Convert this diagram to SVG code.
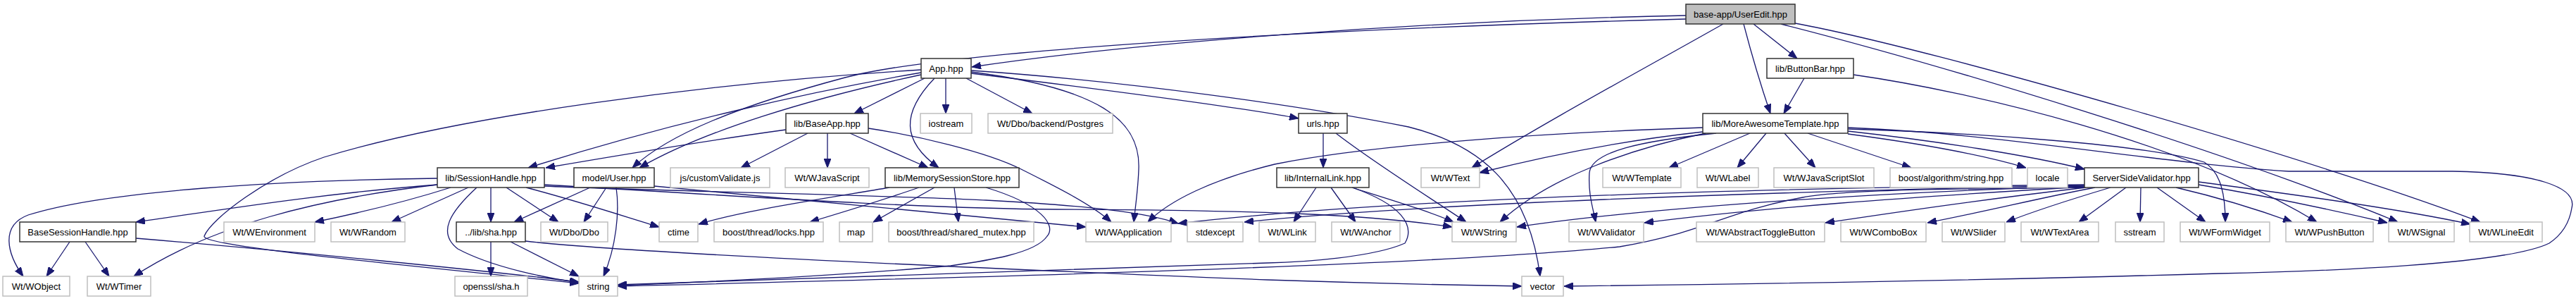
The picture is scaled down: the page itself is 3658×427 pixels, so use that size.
<svg xmlns="http://www.w3.org/2000/svg" width="3658" height="427" viewBox="0 0 3658 427">
<style>
.doc{fill:#fff;stroke:#333;stroke-width:1.5}
.ext{fill:#fff;stroke:#bfbfbf;stroke-width:1.5}
.root{fill:#bfbfbf;stroke:#333;stroke-width:1.5}
text{font-family:"Liberation Sans",Arial,sans-serif;font-size:13px;text-anchor:middle;fill:#000}
#edges path{fill:none;stroke:#191970;stroke-width:1.3;marker-end:url(#arr)}
</style>
<defs>
<marker id="arr" viewBox="0 0 13 10" refX="13" refY="5" markerWidth="13" markerHeight="10" markerUnits="userSpaceOnUse" orient="auto">
<path d="M0,0 L13,5 L0,10 z" fill="#191970" stroke="#191970" stroke-width="1"/>
</marker>
</defs>
<rect width="3658" height="427" fill="#fff"/>
<g id="edges">
<path d="M2394,22 C2000,30 1600,62 1380,95"/>
<path d="M2394,27 C1900,40 1350,70 1200,110 C1050,150 950,190 898,238"/>
<path d="M2447,34 C2330,100 2200,170 2090,238"/>
<path d="M2476,34 C2488,80 2500,120 2514,161"/>
<path d="M2490,34 L2552,83"/>
<path d="M2549,33 C2750,70 3300,230 3522,315"/>
<path d="M2529,34 C2750,90 3150,210 3405,315"/>
<path d="M2562,111 L2533,161"/>
<path d="M2632,106 C2800,130 3100,200 3290,315"/>
<path d="M1313,111 L1213,161"/>
<path d="M1343,111 L1343,161"/>
<path d="M1327,111 C1280,160 1280,200 1333,238"/>
<path d="M1372,111 L1466,161"/>
<path d="M1379,102 C1560,125 1620,170 1617,240 C1616,270 1612,295 1610,315"/>
<path d="M1379,104 C1550,125 1750,150 1844,168"/>
<path d="M1379,100 C1600,115 1850,150 2000,180 C2100,205 2170,260 2187,392"/>
<path d="M1308,103 C1150,130 950,175 750,238"/>
<path d="M1308,106 C1150,140 1000,185 908,238"/>
<path d="M1308,99 C1000,118 650,165 460,223 C380,250 300,310 290,335 C285,350 600,378 822,402"/>
<path d="M1147,189 L1052,238"/>
<path d="M1175,189 L1175,238"/>
<path d="M1207,189 L1318,238"/>
<path d="M1233,182 C1300,192 1400,215 1450,240 C1500,265 1550,290 1578,315"/>
<path d="M1116,184 C1000,200 880,220 775,238"/>
<path d="M1263,266 C1150,285 1050,300 992,318"/>
<path d="M1305,266 C1250,285 1200,300 1150,315"/>
<path d="M1327,266 L1240,315"/>
<path d="M1355,266 L1361,315"/>
<path d="M1400,266 C1480,290 1500,320 1487,335 C1470,360 1400,370 1350,377 C1150,395 950,402 877,405"/>
<path d="M621,262 C450,275 300,300 193,315"/>
<path d="M621,253 C400,256 150,270 40,305 C0,320 10,360 33,392"/>
<path d="M621,262 C450,282 300,320 190,392"/>
<path d="M640,266 C580,285 520,300 447,315"/>
<path d="M665,266 L556,315"/>
<path d="M697,266 L697,315"/>
<path d="M719,266 L793,315"/>
<path d="M677,266 C640,300 620,330 650,353 C700,380 780,395 822,401"/>
<path d="M747,266 C820,285 880,305 936,322"/>
<path d="M773,264 C900,270 1300,278 1400,284 C1550,292 1630,302 1673,317"/>
<path d="M773,262 C1000,275 1300,296 1500,297 C1800,298 1950,305 2062,322"/>
<path d="M838,266 L730,315"/>
<path d="M861,266 L829,315"/>
<path d="M875,266 C880,300 875,350 857,392"/>
<path d="M929,264 C1150,285 1350,305 1542,322"/>
<path d="M697,343 L697,392"/>
<path d="M725,343 L822,392"/>
<path d="M746,342 C900,360 1500,385 1800,397 C1950,402 2100,405 2161,406"/>
<path d="M99,343 L66,392"/>
<path d="M121,343 L155,392"/>
<path d="M193,338 C400,355 700,385 822,400"/>
<path d="M1879,189 L1879,238"/>
<path d="M1897,189 C1950,230 2030,280 2082,315"/>
<path d="M1869,266 L1837,315"/>
<path d="M1890,266 L1925,315"/>
<path d="M1920,266 C1980,285 2030,300 2064,315"/>
<path d="M1920,266 C1990,290 2010,320 1995,345 C1950,365 1850,372 1800,373 C1400,385 1000,400 877,404"/>
<path d="M2485,189 L2370,238"/>
<path d="M2508,189 L2467,238"/>
<path d="M2534,189 L2578,238"/>
<path d="M2567,189 L2714,238"/>
<path d="M2624,190 C2700,200 2800,215 2877,238"/>
<path d="M2624,186 C2750,200 2880,220 2960,240"/>
<path d="M2624,183 C2800,188 3050,205 3130,230 C3155,245 3160,280 3160,315"/>
<path d="M2624,181 C2850,190 3050,230 3250,243 L3483,243 C3600,245 3660,265 3652,295 C3648,320 3635,335 3620,345 C3560,375 3300,385 3150,388 C2800,398 2400,404 2221,406"/>
<path d="M2437,189 C2330,200 2260,215 2257,245 C2255,275 2262,295 2266,315"/>
<path d="M2418,187 C2300,200 2200,220 2101,245"/>
<path d="M2422,189 C2320,210 2200,250 2130,315"/>
<path d="M2418,181 C2200,188 1950,205 1810,233 C1720,255 1660,285 1630,315"/>
<path d="M3122,258 C3250,275 3400,295 3508,318"/>
<path d="M3122,262 C3200,275 3300,295 3390,316"/>
<path d="M3090,266 C3150,280 3200,295 3255,315"/>
<path d="M3063,266 L3132,315"/>
<path d="M3040,266 L3039,315"/>
<path d="M3019,266 L2952,315"/>
<path d="M2997,266 C2950,280 2900,295 2849,315"/>
<path d="M2975,266 C2900,280 2820,300 2737,316"/>
<path d="M2962,266 C2800,285 2700,300 2592,316"/>
<path d="M2960,265 C2700,280 2500,295 2335,316"/>
<path d="M2960,264 C2600,275 2300,300 2154,322"/>
<path d="M2960,263 C2500,272 2000,290 1767,315"/>
<path d="M2960,262 C2400,268 1950,285 1673,317"/>
<path d="M2960,266 C2800,268 2620,268 2560,280 C2450,300 2420,330 2300,350 C2000,380 1200,398 877,406"/>
</g>
<g id="n_useredit"><rect class="root" x="2394" y="6" width="155" height="28"/><text x="2471.5" y="25">base-app/UserEdit.hpp</text></g>
<g id="n_app"><rect class="doc" x="1308" y="83" width="71" height="28"/><text x="1343.5" y="102">App.hpp</text></g>
<g id="n_buttonbar"><rect class="doc" x="2509" y="83" width="123" height="28"/><text x="2570.5" y="102">lib/ButtonBar.hpp</text></g>
<g id="n_baseapp"><rect class="doc" x="1116" y="161" width="117" height="28"/><text x="1174.5" y="180">lib/BaseApp.hpp</text></g>
<g id="n_iostream"><rect class="ext" x="1307" y="161" width="73" height="28"/><text x="1343.5" y="180">iostream</text></g>
<g id="n_postgres"><rect class="ext" x="1403" y="161" width="177" height="28"/><text x="1491.5" y="180">Wt/Dbo/backend/Postgres</text></g>
<g id="n_urls"><rect class="doc" x="1844" y="161" width="69" height="28"/><text x="1878.5" y="180">urls.hpp</text></g>
<g id="n_mat"><rect class="doc" x="2418" y="161" width="206" height="28"/><text x="2521" y="180">lib/MoreAwesomeTemplate.hpp</text></g>
<g id="n_sessionhandle"><rect class="doc" x="621" y="238" width="152" height="28"/><text x="697" y="257">lib/SessionHandle.hpp</text></g>
<g id="n_user"><rect class="doc" x="815" y="238" width="114" height="28"/><text x="872" y="257">model/User.hpp</text></g>
<g id="n_customvalidate"><rect class="ext" x="952" y="238" width="141" height="28"/><text x="1022.5" y="257">js/customValidate.js</text></g>
<g id="n_wjavascript"><rect class="ext" x="1115" y="238" width="119" height="28"/><text x="1174.5" y="257">Wt/WJavaScript</text></g>
<g id="n_mss"><rect class="doc" x="1257" y="238" width="190" height="28"/><text x="1352" y="257">lib/MemorySessionStore.hpp</text></g>
<g id="n_internallink"><rect class="doc" x="1813" y="238" width="131" height="28"/><text x="1878.5" y="257">lib/InternalLink.hpp</text></g>
<g id="n_wtext"><rect class="ext" x="2018" y="238" width="83" height="28"/><text x="2059.5" y="257">Wt/WText</text></g>
<g id="n_wtemplate"><rect class="ext" x="2276" y="238" width="111" height="28"/><text x="2331.5" y="257">Wt/WTemplate</text></g>
<g id="n_wlabel"><rect class="ext" x="2410" y="238" width="87" height="28"/><text x="2453.5" y="257">Wt/WLabel</text></g>
<g id="n_wjsslot"><rect class="ext" x="2519" y="238" width="142" height="28"/><text x="2590" y="257">Wt/WJavaScriptSlot</text></g>
<g id="n_boostalgo"><rect class="ext" x="2684" y="238" width="173" height="28"/><text x="2770.5" y="257">boost/algorithm/string.hpp</text></g>
<g id="n_locale"><rect class="ext" x="2879" y="238" width="57" height="28"/><text x="2907.5" y="257">locale</text></g>
<g id="n_ssv"><rect class="doc" x="2960" y="238" width="162" height="28"/><text x="3041" y="257">ServerSideValidator.hpp</text></g>
<g id="n_bsh"><rect class="doc" x="28" y="315" width="165" height="28"/><text x="110.5" y="334">BaseSessionHandle.hpp</text></g>
<g id="n_wenv"><rect class="ext" x="318" y="315" width="129" height="28"/><text x="382.5" y="334">Wt/WEnvironment</text></g>
<g id="n_wrandom"><rect class="ext" x="470" y="315" width="105" height="28"/><text x="522.5" y="334">Wt/WRandom</text></g>
<g id="n_sha"><rect class="doc" x="648" y="315" width="98" height="28"/><text x="697" y="334">../lib/sha.hpp</text></g>
<g id="n_dbo"><rect class="ext" x="768" y="315" width="95" height="28"/><text x="815.5" y="334">Wt/Dbo/Dbo</text></g>
<g id="n_ctime"><rect class="ext" x="936" y="315" width="55" height="28"/><text x="963.5" y="334">ctime</text></g>
<g id="n_locks"><rect class="ext" x="1014" y="315" width="155" height="28"/><text x="1091.5" y="334">boost/thread/locks.hpp</text></g>
<g id="n_map"><rect class="ext" x="1192" y="315" width="47" height="28"/><text x="1215.5" y="334">map</text></g>
<g id="n_sharedmutex"><rect class="ext" x="1262" y="315" width="206" height="28"/><text x="1365" y="334">boost/thread/shared_mutex.hpp</text></g>
<g id="n_wapplication"><rect class="ext" x="1542" y="315" width="121" height="28"/><text x="1602.5" y="334">Wt/WApplication</text></g>
<g id="n_stdexcept"><rect class="ext" x="1686" y="315" width="79" height="28"/><text x="1725.5" y="334">stdexcept</text></g>
<g id="n_wlink"><rect class="ext" x="1788" y="315" width="80" height="28"/><text x="1828" y="334">Wt/WLink</text></g>
<g id="n_wanchor"><rect class="ext" x="1891" y="315" width="97" height="28"/><text x="1939.5" y="334">Wt/WAnchor</text></g>
<g id="n_wstring"><rect class="ext" x="2062" y="315" width="91" height="28"/><text x="2107.5" y="334">Wt/WString</text></g>
<g id="n_wvalidator"><rect class="ext" x="2228" y="315" width="106" height="28"/><text x="2281" y="334">Wt/WValidator</text></g>
<g id="n_wtoggle"><rect class="ext" x="2409" y="315" width="182" height="28"/><text x="2500" y="334">Wt/WAbstractToggleButton</text></g>
<g id="n_wcombo"><rect class="ext" x="2614" y="315" width="121" height="28"/><text x="2674.5" y="334">Wt/WComboBox</text></g>
<g id="n_wslider"><rect class="ext" x="2758" y="315" width="89" height="28"/><text x="2802.5" y="334">Wt/WSlider</text></g>
<g id="n_wtextarea"><rect class="ext" x="2870" y="315" width="110" height="28"/><text x="2925" y="334">Wt/WTextArea</text></g>
<g id="n_sstream"><rect class="ext" x="3004" y="315" width="69" height="28"/><text x="3038.5" y="334">sstream</text></g>
<g id="n_wformwidget"><rect class="ext" x="3096" y="315" width="127" height="28"/><text x="3159.5" y="334">Wt/WFormWidget</text></g>
<g id="n_wpushbutton"><rect class="ext" x="3246" y="315" width="124" height="28"/><text x="3308" y="334">Wt/WPushButton</text></g>
<g id="n_wsignal"><rect class="ext" x="3392" y="315" width="93" height="28"/><text x="3438.5" y="334">Wt/WSignal</text></g>
<g id="n_wlineedit"><rect class="ext" x="3507" y="315" width="103" height="28"/><text x="3558.5" y="334">Wt/WLineEdit</text></g>
<g id="n_wobject"><rect class="ext" x="4" y="392" width="95" height="28"/><text x="51.5" y="411">Wt/WObject</text></g>
<g id="n_wtimer"><rect class="ext" x="124" y="392" width="90" height="28"/><text x="169" y="411">Wt/WTimer</text></g>
<g id="n_openssl"><rect class="ext" x="646" y="392" width="103" height="28"/><text x="697.5" y="411">openssl/sha.h</text></g>
<g id="n_string"><rect class="ext" x="822" y="392" width="55" height="28"/><text x="849.5" y="411">string</text></g>
<g id="n_vector"><rect class="ext" x="2161" y="392" width="59" height="28"/><text x="2190.5" y="411">vector</text></g>
</svg>
